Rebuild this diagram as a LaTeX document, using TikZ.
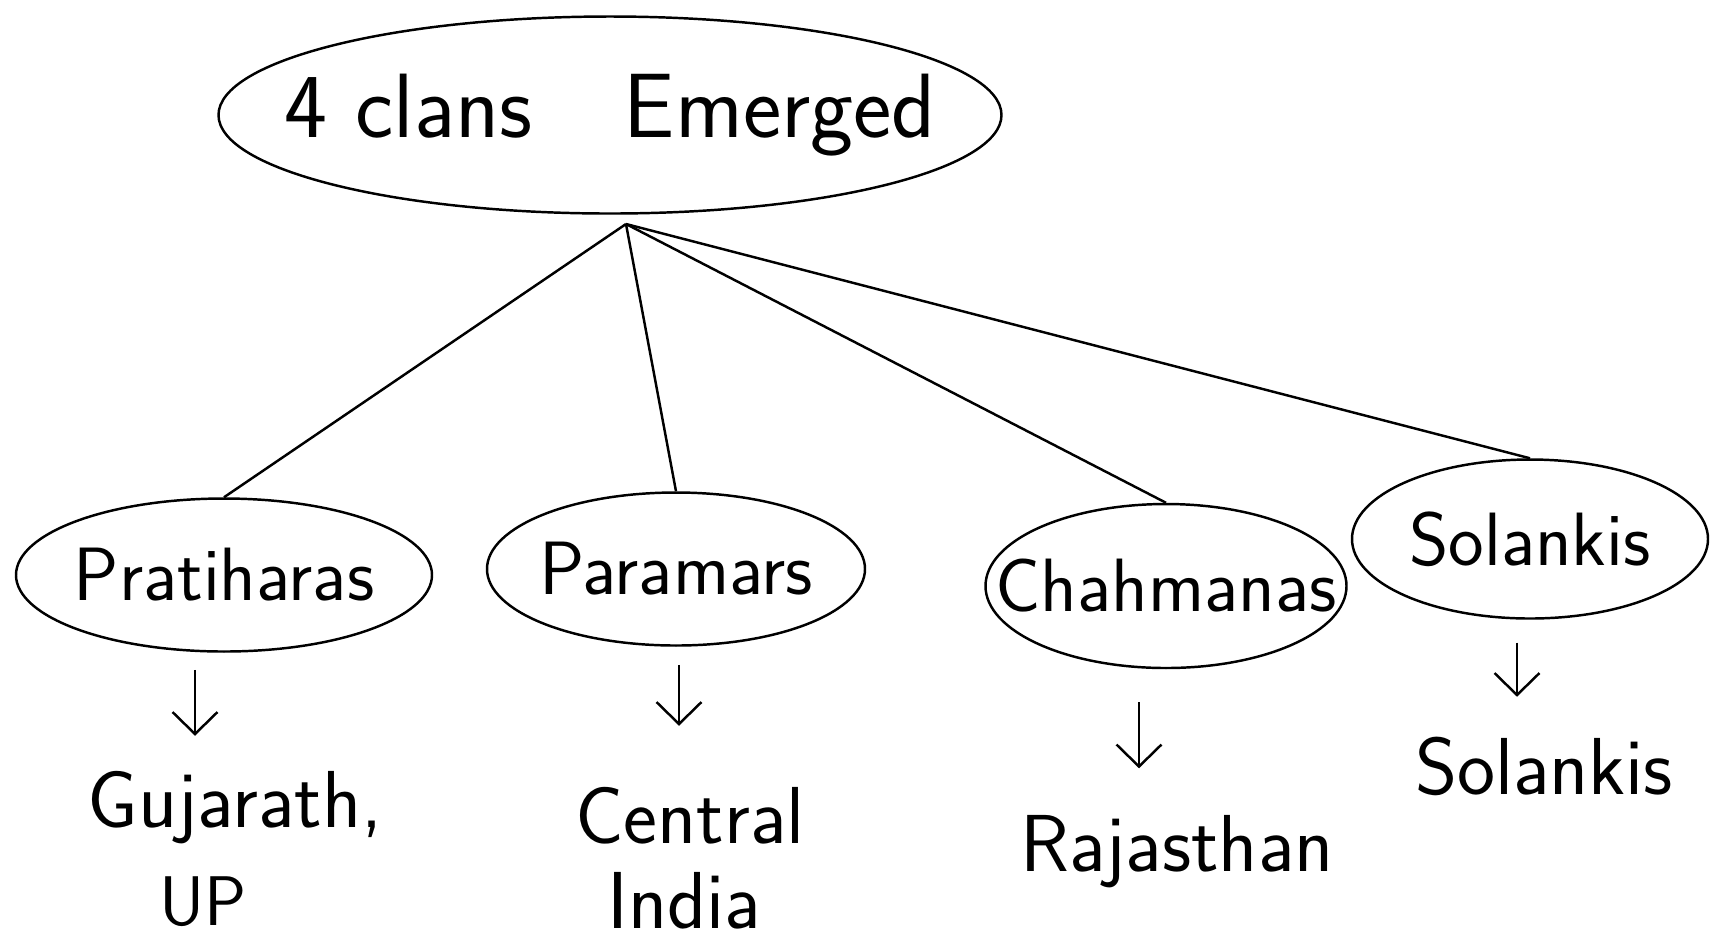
\documentclass[tikz,border=0pt]{standalone}
\usetikzlibrary{arrows.meta,shapes.geometric}

\begin{document}
\begin{tikzpicture}[
    clan/.style={draw, ellipse, line width=0.7pt, inner sep=0pt},
    every label/.style={font=\sffamily\fontsize{21.5}{26}\selectfont},
    region/.style={anchor=base, font=\sffamily\fontsize{23}{27}\selectfont},
    link/.style={line width=0.7pt},
    down/.style={-{Straight Barb[length=2.2mm, width=4.5mm]}, line width=0.7pt}
  ]
  \useasboundingbox (0,0) rectangle (17.17,-9.4);

  \node[clan, minimum width=7.83cm, minimum height=1.97cm,
        label={[font=\sffamily\fontsize{26}{30}\selectfont]center:4 clans\quad Emerged}] (top) at (6.10,-1.15) {};
  \coordinate (hub) at (6.26,-2.24);

  \node[clan, minimum width=4.16cm, minimum height=1.53cm, label=center:Pratiharas] (prat) at (2.24,-5.75) {};
  \node[clan, minimum width=3.78cm, minimum height=1.53cm, label=center:Paramars] (para) at (6.76,-5.69) {};
  \node[clan, minimum width=3.61cm, minimum height=1.64cm, label=center:Chahmanas] (chah) at (11.66,-5.86) {};
  \node[clan, minimum width=3.56cm, minimum height=1.59cm, label=center:Solankis] (sola) at (15.30,-5.39) {};

  \draw[link] (hub) -- (prat.north);
  \draw[link] (hub) -- (para.north);
  \draw[link] (hub) -- (chah.north);
  \draw[link] (hub) -- (sola.north);

  % regions
  \node[region] (guj) at (2.35,-8.27) {Gujarath,};
  \node[region, font=\sffamily\fontsize{20}{24}\selectfont] (up) at (2.03,-9.25) {UP};
  \node[region] (cen) at (6.90,-8.43) {Central};
  \node[region] (ind) at (6.84,-9.28) {India};
  \node[region] (raj) at (11.77,-8.71) {Rajasthan};
  \node[region] (sol) at (15.44,-7.94) {Solankis};

  \draw[down] ([xshift=-0.29cm, yshift=-0.17cm]prat.south) -- ++(0,-0.66);
  \draw[down] ([xshift=0.03cm, yshift=-0.18cm]para.south) -- ++(0,-0.61);
  \draw[down] ([xshift=-0.27cm, yshift=-0.33cm]chah.south) -- ++(0,-0.66);
  \draw[down] ([xshift=-0.13cm, yshift=-0.23cm]sola.south) -- ++(0,-0.54);
\end{tikzpicture}
\end{document}
